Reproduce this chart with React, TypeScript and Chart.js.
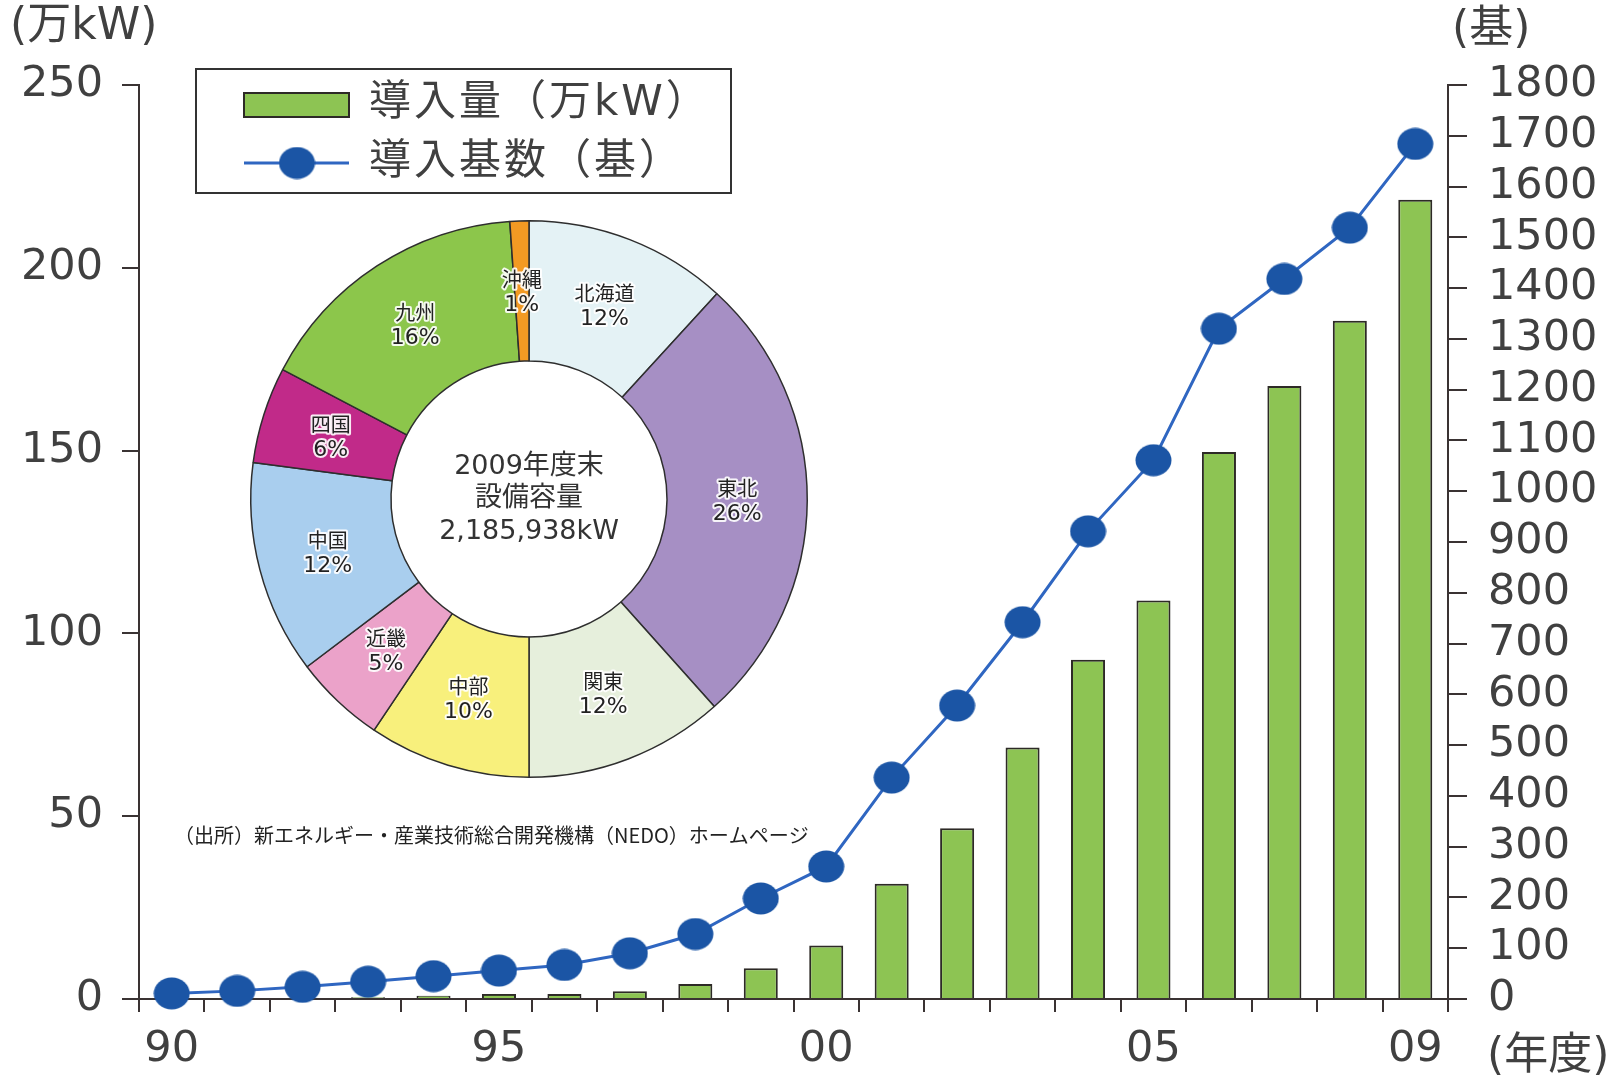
import React, { useEffect, useRef } from 'react';
import { Chart, registerables } from 'chart.js';

Chart.register(...registerables);

// ---------- data ----------
const years = ['1990', '1991', '1992', '1993', '1994', '1995', '1996', '1997', '1998', '1999',
  '2000', '2001', '2002', '2003', '2004', '2005', '2006', '2007', '2008', '2009'];
const xTickLabels = ['90', '', '', '', '', '95', '', '', '', '', '00', '', '', '', '', '05', '', '', '', '09'];
// 導入量（万kW）
const capacityManKW = [0.1, 0.2, 0.3, 0.5, 0.9, 1.4, 1.4, 2.1, 4.1, 8.4,
  14.6, 31.5, 46.7, 68.8, 92.8, 109.0, 149.6, 167.7, 185.5, 218.6];
// 導入基数（基）
const unitCount = [11, 16, 24, 34, 45, 56, 67, 90, 128, 198,
  261, 436, 578, 742, 921, 1061, 1320, 1418, 1519, 1684];
const leftAxis = { min: 0, max: 250, step: 50 };
const rightAxis = { min: 0, max: 1800, step: 100 };

const regions = ['北海道', '東北', '関東', '中部', '近畿', '中国', '四国', '九州', '沖縄'];
const regionShares = [11.8, 26.6, 11.6, 9.4, 5.3, 12.4, 5.6, 16.2, 1.1];
const regionPctLabels = ['12%', '26%', '12%', '10%', '5%', '12%', '6%', '16%', '1%'];
const regionColors = ['#e4f2f5', '#a68fc4', '#e6efdc', '#f8f07c', '#eba2c9', '#a9ceee', '#c12a89', '#8cc64b', '#f39a23'];
const centerLines = ['2009年度末', '設備容量', '2,185,938kW'];

const legendBarLabel = '導入量（万kW）';
const legendLineLabel = '導入基数（基）';
const leftUnit = '(万kW)';
const rightUnit = '(基)';
const xUnit = '(年度)';
const sourceText = '（出所）新エネルギー・産業技術総合開発機構（NEDO）ホームページ';

// ---------- styles ----------
const FONT = '"DejaVu Sans", "Noto Sans CJK JP", sans-serif';
const CJK = '"Noto Sans CJK JP", "DejaVu Sans", sans-serif';
const AXIS = '#3a3333';
const TXT = '#404040';
const BAR = '#8dc453';
const BAR_EDGE = '#2d2a26';
const LINE = '#2f66c1';
const MARKER = '#1b55a5';

function makeMarker(w: number, h: number, color: string) {
  const c = document.createElement('canvas');
  c.width = w;
  c.height = h;
  const g = c.getContext('2d')!;
  g.fillStyle = color;
  g.beginPath();
  g.ellipse(w / 2, h / 2, w / 2 - 0.5, h / 2 - 0.5, 0, 0, Math.PI * 2);
  g.fill();
  return c;
}

export default function App() {
  const mainRef = useRef<HTMLCanvasElement>(null);
  const pieRef = useRef<HTMLCanvasElement>(null);

  useEffect(() => {
    document.body.style.margin = '0';
    document.body.style.overflow = 'hidden';
    const marker = makeMarker(37, 33, MARKER);

    const overlay = {
      id: 'overlay',
      afterDraw(chart: any) {
        const ctx = chart.ctx as CanvasRenderingContext2D;
        ctx.save();
        ctx.fillStyle = TXT;
        ctx.textBaseline = 'middle';
        ctx.textAlign = 'left';
        ctx.font = `44px ${FONT}`;
        ctx.fillText(leftUnit, 10, 28);
        ctx.fillText(rightUnit, 1452, 31);
        ctx.fillText(xUnit, 1487, 1058);

        // legend box
        ctx.strokeStyle = '#333';
        ctx.lineWidth = 2;
        ctx.strokeRect(196, 69, 535, 124);
        ctx.fillStyle = BAR;
        ctx.fillRect(244, 93, 105, 24);
        ctx.strokeStyle = BAR_EDGE;
        ctx.strokeRect(244, 93, 105, 24);
        ctx.strokeStyle = LINE;
        ctx.lineWidth = 3;
        ctx.beginPath();
        ctx.moveTo(244, 163);
        ctx.lineTo(349, 163);
        ctx.stroke();
        ctx.drawImage(marker, 297 - marker.width / 2, 163 - marker.height / 2);
        ctx.fillStyle = TXT;
        ctx.font = `42px ${FONT}`;
        (ctx as any).letterSpacing = '3px';
        ctx.fillText(legendBarLabel, 369, 104);
        ctx.fillText(legendLineLabel, 369, 163);
        (ctx as any).letterSpacing = '0px';

        // source note
        ctx.fillStyle = '#ffffff';
        ctx.fillRect(170, 815, 642, 41);
        ctx.fillStyle = '#222';
        ctx.font = `20px ${CJK}`;
        ctx.fillText(sourceText, 174, 835);
        ctx.restore();
      },
    };

    const main = new Chart(mainRef.current!, {
      data: {
        labels: years,
        datasets: [
          {
            type: 'line',
            label: legendLineLabel,
            data: unitCount,
            yAxisID: 'yR',
            borderColor: LINE,
            borderWidth: 3,
            pointStyle: marker as any,
            pointRadius: 18,
            pointHoverRadius: 18,
            tension: 0,
            order: 0,
            clip: false as any,
          },
          {
            type: 'bar',
            label: legendBarLabel,
            data: capacityManKW,
            yAxisID: 'yL',
            backgroundColor: BAR,
            borderColor: BAR_EDGE,
            borderWidth: 2,
            barPercentage: 0.52,
            categoryPercentage: 1,
            order: 1,
          },
        ],
      } as any,
      options: {
        responsive: false,
        animation: false,
        layout: { padding: { top: 85, left: 0, right: 0, bottom: 0 } },
        plugins: { legend: { display: false }, tooltip: { enabled: false } },
        scales: {
          x: {
            type: 'category',
            offset: true,
            grid: { display: true, offset: true, drawOnChartArea: false, drawTicks: true, tickLength: 13, color: AXIS, lineWidth: 2 },
            border: { display: true, color: AXIS, width: 2 },
            ticks: {
              autoSkip: false, maxRotation: 0, minRotation: 0, padding: 12, color: TXT,
              font: { family: FONT, size: 43 },
              callback: (_v: any, i: number) => xTickLabels[i],
            },
            afterFit: (s: any) => { s.height = 82; },
          },
          yL: {
            type: 'linear',
            position: 'left',
            min: leftAxis.min,
            max: leftAxis.max,
            grid: { drawOnChartArea: false, drawTicks: true, tickLength: 17, color: AXIS, lineWidth: 2 },
            border: { display: true, color: AXIS, width: 2 },
            ticks: {
              stepSize: leftAxis.step, autoSkip: false, padding: 19, color: TXT,
              font: { family: FONT, size: 43 },
              callback: (v: any) => String(v),
            },
            afterFit: (s: any) => { s.width = 139; },
          },
          yR: {
            type: 'linear',
            position: 'right',
            min: rightAxis.min,
            max: rightAxis.max,
            grid: { drawOnChartArea: false, drawTicks: true, tickLength: 19, color: AXIS, lineWidth: 2 },
            border: { display: true, color: AXIS, width: 2 },
            ticks: {
              stepSize: rightAxis.step, autoSkip: false, padding: 21, color: TXT,
              font: { family: FONT, size: 43 },
              callback: (v: any) => String(v),
            },
            afterFit: (s: any) => { s.width = 173; },
          },
        },
      } as any,
      plugins: [overlay],
    });

    const pieLabels = {
      id: 'pieLabels',
      afterDatasetsDraw(chart: any) {
        const ctx = chart.ctx as CanvasRenderingContext2D;
        const meta = chart.getDatasetMeta(0);
        ctx.save();
        ctx.textAlign = 'center';
        ctx.textBaseline = 'middle';
        ctx.lineJoin = 'round';
        meta.data.forEach((arc: any, i: number) => {
          const p = arc.tooltipPosition();
          const lines: [string, string][] = [
            [regions[i], `20px ${CJK}`],
            [regionPctLabels[i], `22px ${FONT}`],
          ];
          lines.forEach(([t, f], k) => {
            const y = p.y + (k === 0 ? -12 : 14);
            ctx.font = f;
            ctx.strokeStyle = 'rgba(255,255,255,0.9)';
            ctx.lineWidth = 4;
            ctx.strokeText(t, p.x, y);
            ctx.fillStyle = '#222';
            ctx.fillText(t, p.x, y);
          });
        });
        const a = meta.data[0];
        ctx.fillStyle = '#333';
        ctx.font = `27px ${FONT}`;
        ctx.fillText(centerLines[0], a.x, a.y - 32);
        ctx.fillText(centerLines[1], a.x, a.y);
        ctx.fillText(centerLines[2], a.x, a.y + 33);
        ctx.restore();
      },
    };

    const pie = new Chart(pieRef.current!, {
      type: 'doughnut',
      data: {
        labels: regions,
        datasets: [{
          data: regionShares,
          backgroundColor: regionColors,
          borderColor: '#2e2e2e',
          borderWidth: 1.5,
        }],
      },
      options: {
        responsive: false,
        animation: false,
        cutout: '49.6%',
        layout: { padding: 21 },
        plugins: { legend: { display: false }, tooltip: { enabled: false } },
      } as any,
      plugins: [pieLabels],
    });

    return () => {
      main.destroy();
      pie.destroy();
    };
  }, []);

  return (
    <div style={{ position: 'relative', width: 1621, height: 1081, background: '#fff' }}>
      <canvas ref={mainRef} width={1621} height={1081} style={{ position: 'absolute', left: 0, top: 0, display: 'block' }} />
      <canvas ref={pieRef} width={600} height={600} style={{ position: 'absolute', left: 229, top: 199, display: 'block' }} />
    </div>
  );
}
